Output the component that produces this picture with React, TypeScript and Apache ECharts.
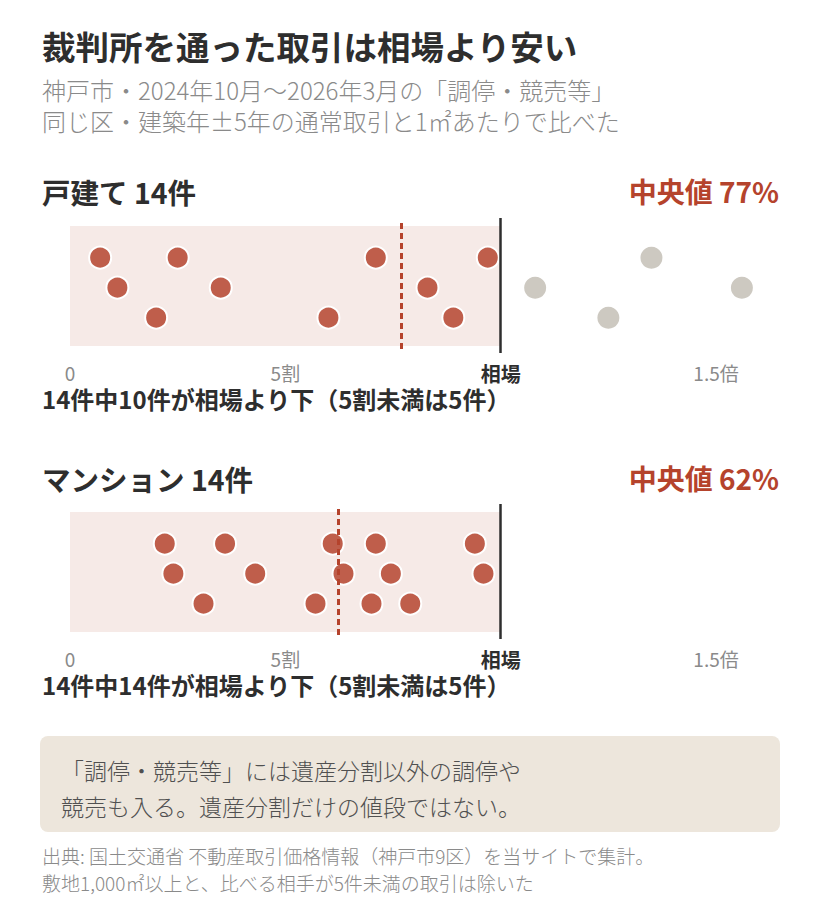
import React, { useEffect, useRef } from "react";
import * as echarts from "echarts";

// ---- data (ratio of court-involved price to market price, sorted) ----
const houseRatios = [0.07, 0.11, 0.2, 0.25, 0.35, 0.6, 0.71, 0.83, 0.89, 0.97, 1.08, 1.25, 1.35, 1.56];
const mansionRatios = [0.22, 0.24, 0.31, 0.36, 0.43, 0.57, 0.61, 0.635, 0.7, 0.71, 0.745, 0.79, 0.94, 0.96];
const panelNames = ["戸建て", "マンション"];
const tickValues = [0, 0.5, 1, 1.5];
const tickLabels = ["0", "5割", "相場", "1.5倍"];

const titleText = "裁判所を通った取引は相場より安い";
const subtitleLines = [
  "神戸市・2024年10月〜2026年3月の「調停・競売等」",
  "同じ区・建築年±5年の通常取引と1㎡あたりで比べた",
];
const noteLines = [
  "「調停・競売等」には遺産分割以外の調停や",
  "競売も入る。遺産分割だけの値段ではない。",
];
const sourceLines = [
  "出典: 国土交通省 不動産取引価格情報（神戸市9区）を当サイトで集計。",
  "敷地1,000㎡以上と、比べる相手が5件未満の取引は除いた",
];

const FONT = "'Noto Sans CJK JP', 'Noto Sans', sans-serif";
const RED = "#bf5e4b";
const RED_TEXT = "#b5432c";
const GRAY_DOT = "#cdc9c1";
const BAND = "#f6eae7";
const DARK = "#2e2e2e";

function median(arr: number[]) {
  const s = [...arr].sort((a, b) => a - b);
  const n = s.length;
  return n % 2 ? s[(n - 1) / 2] : (s[n / 2 - 1] + s[n / 2]) / 2;
}

export default function App() {
  const ref = useRef<HTMLDivElement>(null);
  useEffect(() => {
    if (!ref.current) return;
    const chart = echarts.init(ref.current, undefined, { renderer: "svg" });
    const panels = [houseRatios, mansionRatios];
    const OFFSET = 286;
    const gridTop0 = 218;
    const gridH = 135;
    const unit = 430.7;
    const xMax = 1.65;
    const yMin = -0.177;
    const yMax = yMin + gridH / 30;

    const grids: any[] = [];
    const xAxes: any[] = [];
    const yAxes: any[] = [];
    const series: any[] = [];
    const graphics: any[] = [];

    graphics.push({
      type: "text",
      style: { text: titleText, x: 42, y: 45, fill: DARK, fontFamily: FONT, fontSize: 33.5, fontWeight: "bold", textAlign: "left", textVerticalAlign: "middle" },
    });
    subtitleLines.forEach((t, i) => {
      graphics.push({
        type: "text",
        style: { text: t, x: 42, y: 89 + i * 31, fill: "#8a8a8a", fontFamily: FONT, fontSize: 24, fontWeight: 300, textAlign: "left", textVerticalAlign: "middle" },
      });
    });

    panels.forEach((vals, p) => {
      const off = p * OFFSET;
      const med = median(vals);
      const below = vals.filter((v) => v < 1).length;
      const belowHalf = vals.filter((v) => v < 0.5).length;
      grids.push({ left: 70, top: gridTop0 + off, width: xMax * unit, height: gridH });
      xAxes.push({
        type: "value",
        gridIndex: p,
        min: 0,
        max: xMax,
        axisLine: { show: false },
        axisTick: { show: false },
        splitLine: { show: false },
        axisLabel: {
          customValues: tickValues,
          margin: 10,
          fontFamily: FONT,
          fontSize: 19,
          color: "#8a8a8a",
          formatter: (v: number) => {
            const idx = tickValues.findIndex((t) => Math.abs(t - v) < 1e-6);
            const lab = idx >= 0 ? tickLabels[idx] : "";
            return Math.abs(v - 1) < 1e-6 ? `{b|${lab}}` : lab;
          },
          rich: { b: { fontFamily: FONT, fontSize: 20, fontWeight: "bold", color: DARK } },
        },
      });
      yAxes.push({ type: "value", gridIndex: p, min: yMin, max: yMax, show: false });
      series.push({
        type: "scatter",
        xAxisIndex: p,
        yAxisIndex: p,
        symbolSize: 22,
        z: 3,
        data: vals.map((v, i) => ({
          value: [v, 3 - (i % 3)],
          itemStyle: v < 1 ? { color: RED, borderColor: "#fff", borderWidth: 2, opacity: 1 } : { color: GRAY_DOT, borderWidth: 0, opacity: 1 },
        })),
        markArea: {
          silent: true,
          z: 1,
          itemStyle: { color: BAND },
          data: [[{ xAxis: 0, yAxis: 0.057 }, { xAxis: 1, yAxis: 4.057 }]],
        },
        markLine: {
          silent: true,
          z: 10,
          symbol: "none",
          label: { show: false },
          data: [
            { xAxis: 1, lineStyle: { color: DARK, width: 2.5, type: "solid" } },
            [
              { coord: [med, -0.044], lineStyle: { color: RED_TEXT, width: 3, type: [6, 4] } },
              { coord: [med, 4.19] },
            ],
          ],
        },
      });
      graphics.push({
        type: "text",
        style: { text: `${panelNames[p]} ${vals.length}件`, x: 42, y: 191 + off + p, fill: DARK, fontFamily: FONT, fontSize: 28.5, fontWeight: "bold", textAlign: "left", textVerticalAlign: "middle" },
      });
      graphics.push({
        type: "text",
        style: { text: `中央値 ${Math.round(med * 100)}%`, x: 779, y: 191 + off + p, fill: RED_TEXT, fontFamily: FONT, fontSize: 28, fontWeight: "bold", textAlign: "right", textVerticalAlign: "middle" },
      });
      graphics.push({
        type: "text",
        style: {
          text: `${vals.length}件中${below}件が相場より下（5割未満は${belowHalf}件）`,
          x: 42, y: 398 + off, fill: DARK, fontFamily: FONT, fontSize: 24, fontWeight: "bold", textAlign: "left", textVerticalAlign: "middle",
        },
      });
    });

    graphics.push({
      type: "rect",
      shape: { x: 40, y: 736, width: 740, height: 96, r: 8 },
      style: { fill: "#ede6dc" },
    });
    noteLines.forEach((t, i) => {
      graphics.push({
        type: "text",
        style: { text: t, x: 61, y: 770 + i * 36, fill: "#505050", fontFamily: FONT, fontSize: 23, fontWeight: 300, textAlign: "left", textVerticalAlign: "middle" },
      });
    });
    sourceLines.forEach((t, i) => {
      graphics.push({
        type: "text",
        style: { text: t, x: 42, y: 855 + i * 27, fill: "#8a8a8a", fontFamily: FONT, fontSize: 19, fontWeight: 300, textAlign: "left", textVerticalAlign: "middle" },
      });
    });

    chart.setOption({
      animation: false,
      backgroundColor: "#ffffff",
      textStyle: { fontFamily: FONT },
      grid: grids,
      xAxis: xAxes,
      yAxis: yAxes,
      series,
      graphic: { elements: graphics },
    });
    return () => chart.dispose();
  }, []);
  return <div ref={ref} style={{ position: "absolute", left: 0, top: 0, width: 820, height: 912 }} />;
}
